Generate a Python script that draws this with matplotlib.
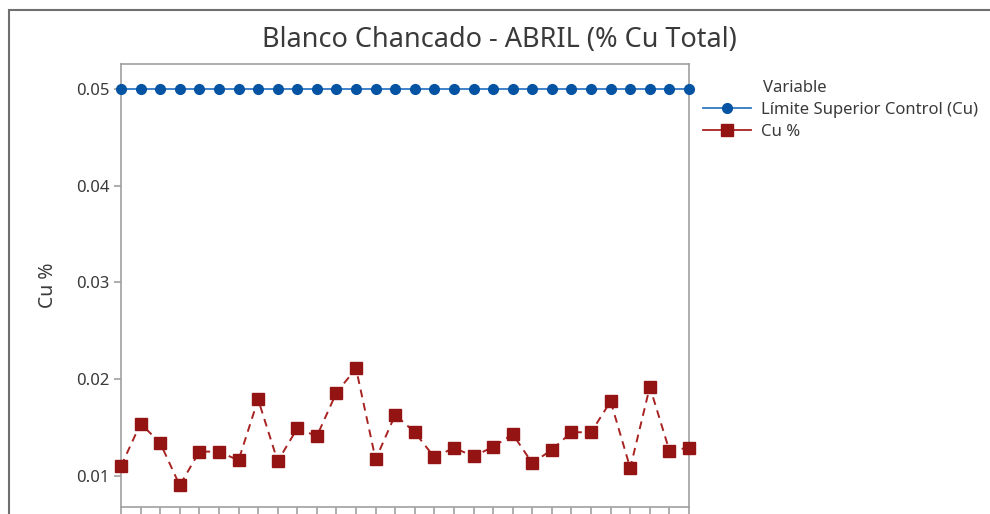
import numpy as np
import matplotlib
matplotlib.use('Agg')
import matplotlib.pyplot as plt
from matplotlib.patches import Rectangle
from matplotlib.lines import Line2D

plt.rcParams['font.family'] = ['Noto Sans', 'DejaVu Sans']

# data (30 days of April)
days = list(range(1, 31))
limite = [0.05] * 30
cu = [0.0110, 0.0154, 0.0134, 0.0090, 0.0125, 0.0125, 0.0116, 0.0179, 0.0115, 0.0149,
      0.0141, 0.0186, 0.0211, 0.0117, 0.0163, 0.0145, 0.0119, 0.0129, 0.0120, 0.0130,
      0.0143, 0.0113, 0.0127, 0.0145, 0.0145, 0.0177, 0.0108, 0.0192, 0.0126, 0.0129]
y_ticks = [0.01, 0.02, 0.03, 0.04, 0.05]
series_names = ['Límite Superior Control (Cu)', 'Cu %']

blue_line = '#2f78c6'
blue_mark = '#0553a3'
red_line = '#a82222'
red_mark = '#941414'
gray_txt = '#3a3a3a'
spine_col = '#a0a0a0'

fig = plt.figure(figsize=(9.9, 5.14), dpi=100)

# outer frame of the graph window (cut at right/bottom)
fig.patches.append(Rectangle((9 / 990, -0.1), 1.2, 1 - 10 / 514 + 0.1,
                             transform=fig.transFigure, fill=False,
                             edgecolor='#6f6f6f', linewidth=1.5))

ax = fig.add_axes([121 / 990, 7 / 514, 568 / 990, 443 / 514])

ax.plot(days, limite, color=blue_line, linewidth=1.3, marker='o', markersize=7,
        markerfacecolor=blue_mark, markeredgecolor=blue_mark,
        clip_on=False, zorder=3)
ax.plot(days, cu, color=red_line, linewidth=1.4, linestyle=(0, (4, 3)), marker='s',
        markersize=8.5, markerfacecolor=red_mark, markeredgecolor=red_mark,
        clip_on=False, zorder=3)

ax.set_xlim(1, 30)
ax.set_ylim(0.00677, 0.05259)
ax.set_xticks(days)
ax.set_xticklabels([''] * len(days))
ax.set_yticks(y_ticks)
ax.set_yticklabels(['%.2f' % v for v in y_ticks], fontsize=12, color=gray_txt)
ax.tick_params(axis='both', direction='out', length=5, color=spine_col, width=1.2)

for s in ax.spines.values():
    s.set_color(spine_col)
    s.set_linewidth(1.2)

ax.set_ylabel('Cu %', fontsize=14, color=gray_txt)
ax.yaxis.set_label_coords((58 - 121) / 568, 0.5)

fig.text(499 / 990, 1 - 40 / 514, 'Blanco Chancado - ABRIL (% Cu Total)',
         ha='center', va='center', fontsize=19.5, color=gray_txt)

# legend: title text aligned with the labels, solid handles
fig.text(763 / 990, 1 - 88 / 514, 'Variable', ha='left', va='center',
         fontsize=12, color=gray_txt)
handles = [
    Line2D([], [], color=blue_line, linewidth=1.3, marker='o', markersize=7,
           markerfacecolor=blue_mark, markeredgecolor=blue_mark),
    Line2D([], [], color=red_line, linewidth=1.3, marker='s', markersize=8.5,
           markerfacecolor=red_mark, markeredgecolor=red_mark),
]
leg = fig.legend(handles, series_names, loc='upper left',
                 bbox_to_anchor=(703 / 990, 1 - 102 / 514), frameon=False,
                 fontsize=12, handlelength=2.9, handletextpad=0.6,
                 borderaxespad=0, borderpad=0, labelspacing=0.36)
for t in leg.get_texts():
    t.set_color(gray_txt)

fig.savefig('out.png', dpi=100)
